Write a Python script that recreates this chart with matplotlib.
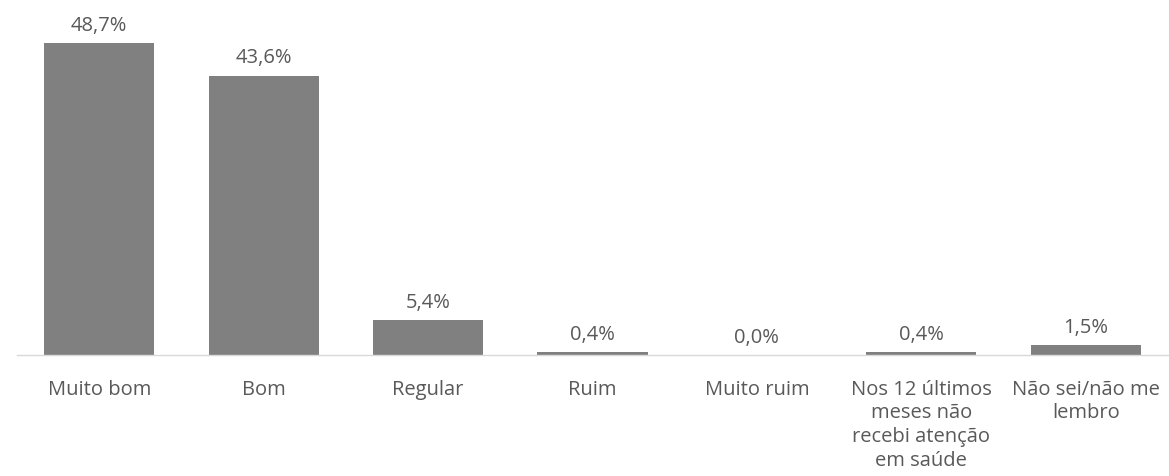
import matplotlib
matplotlib.use("Agg")
import matplotlib.pyplot as plt

categorias = [
    "Muito bom",
    "Bom",
    "Regular",
    "Ruim",
    "Muito ruim",
    "Nos 12 últimos\nmeses não\nrecebi atenção\nem saúde",
    "Não sei/não me\nlembro",
]
valores = [48.7, 43.6, 5.4, 0.4, 0.0, 0.4, 1.5]
rotulos = ["48,7%", "43,6%", "5,4%", "0,4%", "0,0%", "0,4%", "1,5%"]

plt.rcParams["font.family"] = ["Open Sans", "DejaVu Sans"]
cor_texto = "#595959"
tam = 14.5

fig = plt.figure(figsize=(11.69, 4.77), dpi=100)
# eixo em pixels: esquerda 17, direita 1168, linha de base em y=356
ax = fig.add_axes([17 / 1169, 121 / 477, 1151 / 1169, 320.5 / 477])

x = range(len(categorias))
ax.bar(x, valores, width=0.67, color="#808080", zorder=2)
ax.set_xlim(-0.5, len(categorias) - 0.5)
ax.set_ylim(0, 50)

for i, v in enumerate(valores):
    ax.annotate(rotulos[i], (i, v), xytext=(0, 9.5), textcoords="offset points",
                ha="center", va="baseline", fontsize=tam, color=cor_texto,
                annotation_clip=False)

ax.set_xticks(list(x))
ax.set_xticklabels(categorias, fontsize=tam, color=cor_texto, linespacing=1.25)
ax.tick_params(axis="x", length=0, pad=17)
ax.set_yticks([])

for s in ["top", "right", "left"]:
    ax.spines[s].set_visible(False)
ax.spines["bottom"].set_color("#d9d9d9")
ax.spines["bottom"].set_linewidth(1)
ax.spines["bottom"].set_zorder(3)

fig.savefig("out.png", dpi=100)
